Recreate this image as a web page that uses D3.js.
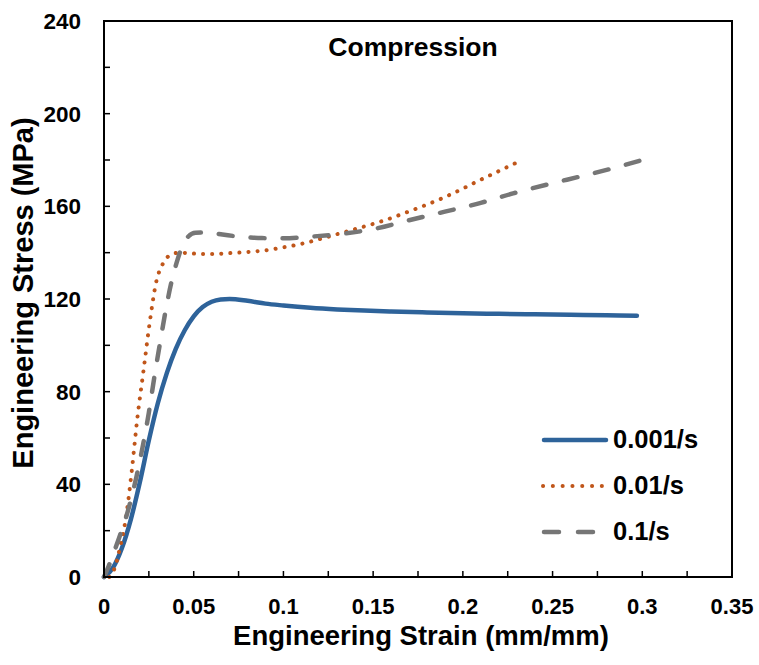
<!DOCTYPE html>
<html>
<head>
<meta charset="utf-8">
<script src="https://cdn.jsdelivr.net/npm/d3@7"></script>
<style>
  body { margin: 0; background: #fff; }
  text { font-family: "Liberation Sans", Arial, sans-serif; font-weight: bold; fill: #000; }
</style>
</head>
<body>
<div id="chart"></div>
<script>
// strain (mm/mm) and stress (MPa)
var strain001 = [0, 0.005, 0.01, 0.015, 0.02, 0.025, 0.03, 0.035, 0.04, 0.045, 0.05, 0.055, 0.06, 0.065, 0.07, 0.08, 0.09, 0.1, 0.115, 0.13, 0.145, 0.16, 0.18, 0.2, 0.22, 0.24, 0.26, 0.28, 0.297];
var stress001 = [0, 4, 12.5, 25, 41, 59, 75, 88, 98.5, 106.5, 112.5, 116.5, 118.8, 119.8, 120, 119.2, 118, 117.2, 116.2, 115.5, 115, 114.6, 114.2, 113.8, 113.6, 113.4, 113.2, 113, 112.8];

var strain01 = [0.003, 0.006, 0.009, 0.0125, 0.0155, 0.0185, 0.022, 0.0255, 0.029, 0.033, 0.037, 0.042, 0.05, 0.06, 0.07, 0.08, 0.09, 0.1, 0.11, 0.12, 0.13, 0.14, 0.155, 0.17, 0.19, 0.21, 0.233];
var stress01 = [0, 4, 13, 27, 46, 68, 89, 110, 127, 135.5, 139, 140, 139.6, 139.4, 139.8, 140.3, 141, 142.3, 143.8, 145.8, 148, 150.2, 153.6, 157.8, 164, 171.5, 180];

var strain1 = [0, 0.0025, 0.008, 0.0135, 0.018, 0.0215, 0.025, 0.028, 0.031, 0.034, 0.0375, 0.041, 0.044, 0.047, 0.051, 0.058, 0.066, 0.076, 0.088, 0.1, 0.115, 0.1336, 0.152, 0.17, 0.19, 0.21, 0.228, 0.25, 0.265, 0.283, 0.3];
var stress1 = [0, 4.5, 16, 29, 43, 56, 71, 86, 100, 113.5, 127, 137, 143.5, 147, 148.6, 148.7, 147.8, 146.9, 146.3, 146.2, 146.9, 148.2, 150.5, 154, 157.7, 161.5, 165.6, 170, 172.8, 176.3, 180];

var seriesNames = ["0.001/s", "0.01/s", "0.1/s"];
var xTicks = [0, 0.05, 0.1, 0.15, 0.2, 0.25, 0.3, 0.35];
var yTicks = [0, 40, 80, 120, 160, 200, 240];

var svgWidth = 759;
var svgHeight = 665;

var margin = { top: 21, right: 27, bottom: 88, left: 104 };
var width = svgWidth - margin.left - margin.right;
var height = svgHeight - margin.top - margin.bottom;

var svg = d3.select("#chart")
  .append("svg")
  .attr("width", svgWidth)
  .attr("height", svgHeight);

var chartGroup = svg.append("g")
  .attr("transform", `translate(${margin.left}, ${margin.top})`);

var x = d3.scaleLinear().domain([0, 0.35]).range([0, width]);
var y = d3.scaleLinear().domain([0, 240]).range([height, 0]);

// line styles per series
var styles = [
  { color: "#2E639A", widthPx: 4.5, dash: null },
  { color: "#C0561A", widthPx: 4, dash: "0.1,9" },
  { color: "#767676", widthPx: 4.5, dash: "14,18" }
];

var series = [
  d3.zip(strain001, stress001),
  d3.zip(strain01, stress01),
  d3.zip(strain1, stress1)
];

// minor + major ticks, pointing inward
var xMinor = d3.range(0, 0.3501, 0.025);
var yMinor = d3.range(0, 240.1, 20);

chartGroup.append("g")
  .selectAll("line")
  .data(xMinor)
  .enter()
  .append("line")
  .attr("x1", d => x(d))
  .attr("x2", d => x(d))
  .attr("y1", height)
  .attr("y2", height - 6)
  .attr("stroke", "#000")
  .attr("stroke-width", 1.5);

chartGroup.append("g")
  .selectAll("line")
  .data(yMinor)
  .enter()
  .append("line")
  .attr("x1", 0)
  .attr("x2", 6)
  .attr("y1", d => y(d))
  .attr("y2", d => y(d))
  .attr("stroke", "#000")
  .attr("stroke-width", 1.5);

// tick labels
chartGroup.append("g")
  .selectAll("text")
  .data(xTicks)
  .enter()
  .append("text")
  .attr("x", d => x(d))
  .attr("y", height + 37)
  .attr("text-anchor", "middle")
  .attr("font-size", "22px")
  .text(d => d);

chartGroup.append("g")
  .selectAll("text")
  .data(yTicks)
  .enter()
  .append("text")
  .attr("x", -23)
  .attr("y", d => y(d) + 8)
  .attr("text-anchor", "end")
  .attr("font-size", "22.5px")
  .text(d => d);

// curves
var line = d3.line()
  .x(d => x(d[0]))
  .y(d => y(d[1]))
  .curve(d3.curveMonotoneX);

chartGroup.selectAll(".curve")
  .data(series)
  .enter()
  .append("path")
  .attr("class", "curve")
  .attr("d", line)
  .attr("fill", "none")
  .attr("stroke", (d, i) => styles[i].color)
  .attr("stroke-width", (d, i) => styles[i].widthPx)
  .attr("stroke-dasharray", (d, i) => styles[i].dash)
  .attr("stroke-linecap", "round")
  .attr("stroke-linejoin", "round");

// plot frame
chartGroup.append("rect")
  .attr("x", 0)
  .attr("y", 0)
  .attr("width", width)
  .attr("height", height)
  .attr("fill", "none")
  .attr("stroke", "#000")
  .attr("stroke-width", 2);

// title inside plot
chartGroup.append("text")
  .attr("x", 309)
  .attr("y", 35)
  .attr("text-anchor", "middle")
  .attr("font-size", "26.5px")
  .text("Compression");

// axis titles
svg.append("text")
  .attr("x", 421)
  .attr("y", 645)
  .attr("text-anchor", "middle")
  .attr("font-size", "27.5px")
  .text("Engineering Strain (mm/mm)");

svg.append("text")
  .attr("transform", "translate(33, 293) rotate(-90)")
  .attr("text-anchor", "middle")
  .attr("font-size", "29px")
  .text("Engineering Stress (MPa)");

// legend
var legend = svg.append("g")
  .attr("transform", "translate(542, 440)");

var legendRows = legend.selectAll("g")
  .data(seriesNames)
  .enter()
  .append("g")
  .attr("transform", (d, i) => `translate(0, ${i * 46})`);

legendRows.append("line")
  .attr("x1", (d, i) => i == 1 ? 1 : 2)
  .attr("x2", (d, i) => i == 1 ? 61 : (i == 2 ? 52 : 64))
  .attr("y1", 0)
  .attr("y2", 0)
  .attr("stroke", (d, i) => styles[i].color)
  .attr("stroke-width", (d, i) => styles[i].widthPx)
  .attr("stroke-dasharray", (d, i) => i == 1 ? "0.1,9.7" : (i == 2 ? "15,19" : null))
  .attr("stroke-linecap", "round");

legendRows.append("text")
  .attr("x", 71)
  .attr("y", 8)
  .attr("font-size", "25.5px")
  .text(d => d);
</script>
</body>
</html>
